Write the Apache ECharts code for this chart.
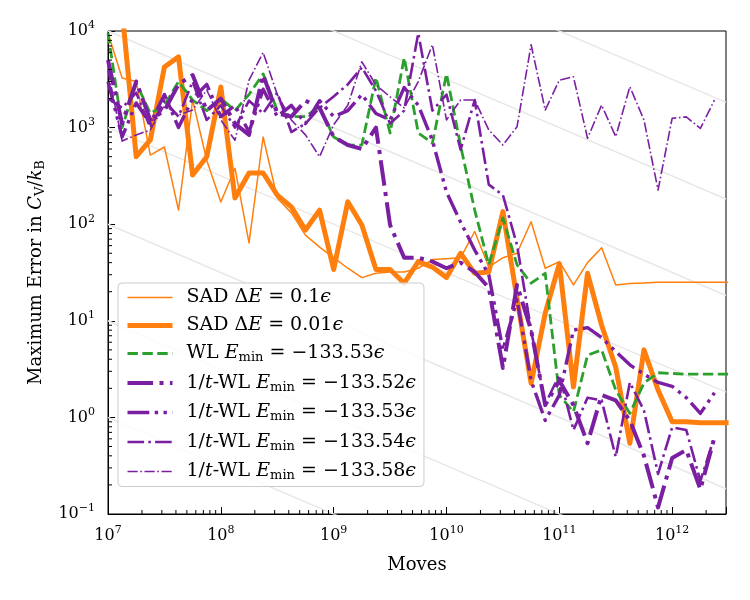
<!DOCTYPE html>
<html>
<head>
<meta charset="UTF-8">
<title>Maximum error vs moves</title>
<script src="https://cdn.jsdelivr.net/npm/echarts@6/dist/echarts.min.js"></script>
</head>
<body style="margin:0">
<div id="chart" style="width:750px;height:600px;"></div>
<script type="text/javascript">
// shared move counts (log spaced)
var moves = [1.000e7, 1.334e7, 1.778e7, 2.371e7, 3.162e7, 4.217e7, 5.623e7, 7.499e7,
  1.000e8, 1.334e8, 1.778e8, 2.371e8, 3.162e8, 4.217e8, 5.623e8, 7.499e8,
  1.000e9, 1.334e9, 1.778e9, 2.371e9, 3.162e9, 4.217e9, 5.623e9, 7.499e9,
  1.000e10, 1.334e10, 1.778e10, 2.371e10, 3.162e10, 4.217e10, 5.623e10, 7.499e10,
  1.000e11, 1.334e11, 1.778e11, 2.371e11, 3.162e11, 4.217e11, 5.623e11, 7.499e11,
  1.000e12, 1.334e12, 1.778e12, 2.371e12, 3.162e12];

var sadCoarse = [9500, 3260, 3000, 520, 630, 140, 1930, 460,
  170, 380, 64, 800, 187, 131, 77, 58,
  45, 35, 28, 31, 32, 32, 35, 43,
  44, 45, 84, 36, 45, 50, 106, 35,
  41, 23.5, 40, 57, 23.5, 24.3, 24.6, 25,
  25, 25, 25, 25, 25];

var sadFine = [12000, 16000, 500, 745, 4240, 5400, 323, 500,
  2630, 187, 339, 339, 200, 151, 87, 140,
  34, 171, 98, 34, 34, 24.5, 41, 36,
  28, 50, 31, 32, 135, 17, 2.25, 12,
  39, 2.07, 31, 9, 3.3, 0.54, 5.0, 1.92,
  0.9, 0.9, 0.88, 0.88, 0.88];

var wl53 = [9500, 1000, 2900, 1400, 1700, 3000, 1930, 1500,
  2000, 1500, 2200, 3600, 1500, 1300, 1300, 1650,
  800, 660, 660, 3300, 880, 5300, 880, 690,
  3600, 646, 140, 38, 116, 38, 24.5, 31,
  1.7, 1.14, 4.4, 5.0, 1.92, 1.1, 2.27, 2.9,
  2.85, 2.8, 2.8, 2.8, 2.8];

var tw52 = [5000, 1100, 3000, 1200, 1500, 2800, 3500, 1500,
  2000, 1100, 840, 3500, 1400, 1300, 1900, 1600,
  800, 660, 600, 1000, 98, 45, 45, 41,
  35, 40, 32, 22, 3.25, 23.5, 8.0, 1.34,
  2.4, 1.34, 0.54, 1.7, 1.5, 0.93, 0.40, 0.117,
  0.38, 0.46, 0.18, 0.62];

var tw53 = [3000, 800, 1800, 1100, 2200, 1000, 2000, 2800,
  1300, 1700, 900, 2500, 1300, 1700, 1100, 1900,
  1300, 1500, 2200, 1400, 1200, 2600, 1700, 740,
  215, 105, 54, 30, 5, 16.6, 2.4, 0.93,
  1.7, 8, 8.5, 6.7, 4.8, 3.5, 2.8, 2.3,
  2.1, 1.6, 1.1, 1.8];

var tw54 = [2000, 1600, 2300, 1000, 1900, 1300, 3000, 1200,
  1700, 1000, 1900, 1400, 2300, 900, 1100, 1600,
  2100, 2800, 4200, 2400, 1100, 1500, 9500, 1500,
  2200, 590, 1930, 257, 200, 61, 8, 1.37,
  2.75, 0.74, 1.6, 1.5, 0.39, 2.3, 1.18, 0.26,
  0.79, 0.74, 0.22, 0.63];

var tw58 = [3900, 725, 840, 945, 1700, 1350, 1520, 2450,
  1200, 740, 3100, 6000, 2200, 1200, 840, 500,
  1070, 1700, 4800, 2760, 2080, 1600, 3000, 7200,
  1200, 1930, 1930, 945, 660, 1020, 7200, 1520,
  3100, 3360, 775, 1710, 805, 2650, 1200, 226,
  1250, 1290, 980, 1930];

// gray guides: error = C / sqrt(moves), log10(C) values
var guideLevels = [3.5, 4.5, 5.5, 6.5, 7.5, 8.5, 9.5];

var seriesNames = ['sad01', 'sad001', 'wl53', 'tw52', 'tw53', 'tw54', 'tw58'];
var legendText = {
  sad01: '{r|SAD Δ}{i|E}{r| = 0.1}{i|ϵ}',
  sad001: '{r|SAD Δ}{i|E}{r| = 0.01}{i|ϵ}',
  wl53: '{r|WL }{i|E}{sub|min}{r| = −133.53}{i|ϵ}',
  tw52: '{r|1/}{i|t}{r|-WL }{i|E}{sub|min}{r| = −133.52}{i|ϵ}',
  tw53: '{r|1/}{i|t}{r|-WL }{i|E}{sub|min}{r| = −133.53}{i|ϵ}',
  tw54: '{r|1/}{i|t}{r|-WL }{i|E}{sub|min}{r| = −133.54}{i|ϵ}',
  tw58: '{r|1/}{i|t}{r|-WL }{i|E}{sub|min}{r| = −133.58}{i|ϵ}'
};

var FONT = 'DejaVu Serif';
var ORANGE = '#ff7f0e', GREEN = '#2ca02c', PURPLE = '#7b1fa2';

function mathRich(size) {
  return {
    r: { fontFamily: FONT, fontSize: size, color: '#000', lineHeight: 22 },
    i: { fontFamily: FONT, fontSize: size, color: '#000', fontStyle: 'italic', lineHeight: 22 },
    sub: { fontFamily: FONT, fontSize: Math.round(size * 0.7), color: '#000', verticalAlign: 'bottom', lineHeight: 12 }
  };
}
var tickRich = {
  b: { fontFamily: FONT, fontSize: 16, color: '#000', lineHeight: 22 },
  e: { fontFamily: FONT, fontSize: 11, color: '#000', verticalAlign: 'top', lineHeight: 10 }
};

function powLabel(v) {
  var e = Math.round(Math.log10(v));
  if (Math.abs(v / Math.pow(10, e) - 1) > 1e-6) return '';
  return '{b|10}{e|' + (e < 0 ? '−' + (-e) : e) + '}';
}

function lineSeries(name, ys, color, width, dash) {
  return {
    name: name,
    type: 'line',
    data: ys.map(function (v, i) { return [moves[i], v]; }),
    symbol: 'none',
    color: color,
    lineStyle: { color: color, width: width, type: dash, join: 'round' },
    emphasis: { disabled: true },
    z: 3
  };
}

var series = [];
guideLevels.forEach(function (L) {
  series.push({
    type: 'line', silent: true, symbol: 'none', z: 1,
    data: [[1e7, Math.pow(10, L) / Math.sqrt(1e7)], [3e12, Math.pow(10, L) / Math.sqrt(3e12)]],
    lineStyle: { color: '#e8e8e8', width: 1.5 }
  });
});
series.push(lineSeries('sad01', sadCoarse, ORANGE, 1.5, 'solid'));
series.push(lineSeries('sad001', sadFine, ORANGE, 5, 'solid'));
series.push(lineSeries('wl53', wl53, GREEN, 2.8, [10.4, 4.5]));
series.push(lineSeries('tw52', tw52, PURPLE, 4, [25.6, 6.4, 4, 6.4]));
series.push(lineSeries('tw53', tw53, PURPLE, 3.4, [21.8, 5.4, 3.4, 5.4, 3.4, 5.4]));
series.push(lineSeries('tw54', tw54, PURPLE, 2.6, [16.6, 4.2, 2.6, 4.2]));
series.push(lineSeries('tw58', tw58, PURPLE, 1.6, [10.2, 2.6, 1.6, 2.6]));

// minor ticks (2..9 within each decade), drawn inward
var xMinor = [], yMinor = [];
for (var d = 7; d <= 12; d++) {
  for (var m = 2; m <= 9; m++) { if (m * Math.pow(10, d) < 3e12) xMinor.push([m * Math.pow(10, d), 0.1]); }
}
for (var d2 = -1; d2 <= 3; d2++) {
  for (var m2 = 2; m2 <= 9; m2++) yMinor.push([1e7, m2 * Math.pow(10, d2)]);
}
series.push({
  type: 'custom', silent: true, clip: false, z: 5, data: xMinor,
  renderItem: function (params, api) {
    var p = api.coord([api.value(0), api.value(1)]);
    return { type: 'line', shape: { x1: p[0], y1: p[1], x2: p[0], y2: p[1] - 4 }, style: { stroke: '#000', lineWidth: 1 } };
  }
});
series.push({
  type: 'custom', silent: true, clip: false, z: 5, data: yMinor,
  renderItem: function (params, api) {
    var p = api.coord([api.value(0), api.value(1)]);
    return { type: 'line', shape: { x1: p[0], y1: p[1], x2: p[0] + 4, y2: p[1] }, style: { stroke: '#000', lineWidth: 1 } };
  }
});

var myChart = echarts.init(document.getElementById('chart'));
var option = {
  animation: false,
  backgroundColor: '#fff',
  grid: {
    left: 108, top: 31, width: 618, height: 483,
    show: true, borderColor: '#000', borderWidth: 1,
    containLabel: false, outerBoundsMode: 'none'
  },
  legend: {
    data: seriesNames,
    orient: 'vertical',
    left: 118, top: 283,
    padding: [5, 8, 4, 7],
    itemGap: 9,
    itemWidth: 45,
    itemHeight: 22,
    backgroundColor: 'rgba(255,255,255,0.8)',
    borderColor: '#cccccc', borderWidth: 1, borderRadius: 4,
    itemStyle: { opacity: 0 },
    lineStyle: { width: 'inherit', type: 'inherit' },
    selectedMode: false,
    formatter: function (name) { return legendText[name]; },
    textStyle: { padding: [0, 0, 0, 9], rich: mathRich(19) }
  },
  xAxis: {
    type: 'log', logBase: 10, min: 1e7, max: 3e12,
    name: 'Moves', nameLocation: 'middle', nameGap: 42,
    nameTextStyle: { fontFamily: FONT, fontSize: 18, color: '#000' },
    axisLine: { show: true, lineStyle: { color: '#000', width: 1 } },
    axisTick: { inside: true, length: 7, lineStyle: { color: '#000' } },
    axisLabel: { margin: 11, formatter: powLabel, rich: tickRich },
    splitLine: { show: false }
  },
  yAxis: {
    type: 'log', logBase: 10, min: 0.1, max: 1e4,
    name: '{r|Maximum Error in }{i|C}{sub|V}{r|/}{i|k}{sub|B}',
    nameLocation: 'middle', nameGap: 58, nameRotate: 90,
    nameTextStyle: { rich: mathRich(18) },
    axisLine: { show: true, lineStyle: { color: '#000', width: 1 } },
    axisTick: { inside: true, length: 7, lineStyle: { color: '#000' } },
    axisLabel: { margin: 13, formatter: powLabel, rich: tickRich },
    splitLine: { show: false }
  },
  series: series
};
myChart.setOption(option);
</script>
</body>
</html>
